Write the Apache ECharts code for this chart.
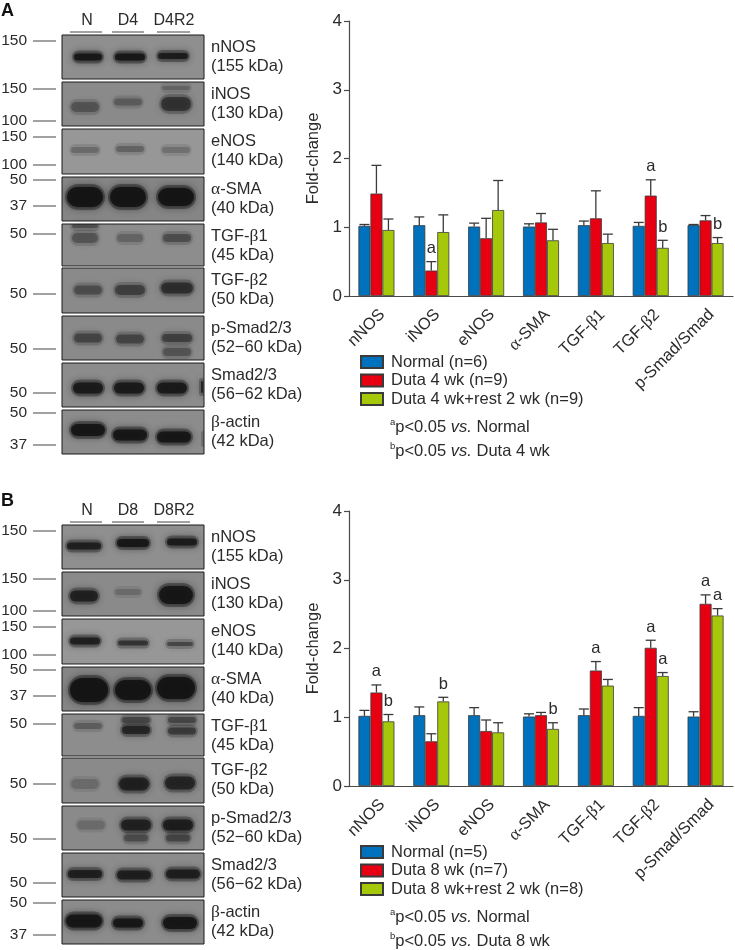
<!DOCTYPE html>
<html><head><meta charset="utf-8">
<style>html,body{margin:0;padding:0;background:#fff}#c{width:735px;height:950px}</style>
<script src="https://cdn.jsdelivr.net/npm/echarts@6/dist/echarts.min.js"></script>
</head><body><div id="c"></div>
<script>
// ---------- chart data ----------
const categories = ['nNOS','iNOS','eNOS','α-SMA','TGF-β1','TGF-β2','p-Smad/Smad'];
const yTicks = [0,1,2,3,4];

const namesA = ['Normal (n=6)','Duta 4 wk (n=9)','Duta 4 wk+rest 2 wk (n=9)'];
const normalA = [1.02,1.03,1.01,1.01,1.03,1.02,1.03];
const dutaA   = [1.49,0.37,0.84,1.07,1.13,1.46,1.10];
const restA   = [0.96,0.93,1.25,0.81,0.77,0.70,0.77];
const normalTopA = [1.04,1.15,1.06,1.05,1.09,1.07,1.04];
const dutaTopA   = [1.90,0.50,1.13,1.20,1.53,1.69,1.17];
const restTopA   = [1.12,1.18,1.68,0.97,0.90,0.81,0.85];
const dutaSigA = ['','a','','','','a',''];
const restSigA = ['','','','','','b','b'];

const namesB = ['Normal (n=5)','Duta 8 wk (n=7)','Duta 8 wk+rest 2 wk (n=8)'];
const normalB = [1.02,1.03,1.03,1.01,1.03,1.02,1.01];
const dutaB   = [1.36,0.65,0.80,1.03,1.68,2.01,2.65];
const restB   = [0.94,1.23,0.78,0.83,1.46,1.60,2.48];
const normalTopB = [1.10,1.15,1.14,1.05,1.12,1.14,1.08];
const dutaTopB   = [1.47,0.76,0.96,1.07,1.81,2.12,2.78];
const restTopB   = [1.04,1.29,0.92,0.92,1.55,1.65,2.58];
const dutaSigB = ['a','','','','a','a','a'];
const restSigB = ['b','b','','b','','a','a'];

const noneSig = ['','','','','','',''];

// ---------- blot panel text ----------
const blotNames = ['nNOS','iNOS','eNOS','α-SMA','TGF-β1','TGF-β2','p-Smad2/3','Smad2/3','β-actin'];
const blotSizes = ['(155 kDa)','(130 kDa)','(140 kDa)','(40 kDa)','(45 kDa)','(50 kDa)','(52−60 kDa)','(56−62 kDa)','(42 kDa)'];
const ladderLabels = ['150','150','100','150','100','50','37','50','50','50','50','50','37'];
const lanesA = ['N','D4','D4R2'];
const lanesB = ['N','D8','D8R2'];

// ---------- blot picture layout (decoration, not chart values) ----------
const ladderY = [41,89,121,137,165,180,206,234,294,349,393,413,445];
const rowTops = [35,82,129,177,224,268,316,363,410];
const rowBottoms = [79,126,174,221,266,313,360,407,454];
const rowGreys = ['#8f8f8f','#8a8a8a','#979797','#858585','#8d8d8d','#8a8a8a','#8a8a8a','#8c8c8c','#8c8c8c'];
// [centre x, dy below row top, width, height, darkness]
const bandsA = [
 [[88,22,30,7,.95],[130,22,32,7,.95],[173,21,32,6,.9]],
 [[85,25,30,10,.35],[128,20,30,7,.3],[176,22,32,14,.6],[176,6,30,4,.25]],
 [[85,21,30,6,.25],[130,20,30,6,.3],[176,21,30,6,.22]],
 [[85,20,38,20,1],[128,20,38,20,1],[176,20,38,18,1]],
 [[85,14,28,10,.35],[85,2,28,4,.4],[130,14,28,8,.25],[177,14,30,8,.4]],
 [[88,22,30,9,.4],[130,22,32,10,.5],[177,20,34,11,.65]],
 [[88,22,30,9,.45],[130,23,30,9,.45],[177,22,32,8,.5],[177,36,30,8,.35]],
 [[88,25,32,11,.9],[129,25,32,11,.9],[172,25,32,11,.9],[202,24,4,12,.8]],
 [[88,20,36,12,.95],[130,25,36,11,.95],[174,27,36,11,.95],[203,29,2,10,.6]]
];
const bandsB = [
 [[84,21,36,7,.85],[133,18,34,8,.95],[182,17,32,7,.9]],
 [[84,24,30,11,.8],[128,20,28,6,.2],[176,23,36,18,.95]],
 [[85,22,32,7,.85],[133,24,32,5,.65],[180,25,28,4,.5]],
 [[89,23,40,24,1],[133,23,38,20,1],[176,21,40,22,1]],
 [[88,12,30,6,.3],[136,16,30,8,.75],[136,6,30,6,.45],[182,17,30,7,.55],[182,6,30,6,.45]],
 [[85,26,30,10,.2],[134,26,32,13,.8],[180,25,32,13,.75]],
 [[91,19,30,9,.2],[136,19,32,11,.8],[136,32,26,7,.4],[178,19,32,11,.85],[178,32,26,7,.45]],
 [[85,21,36,8,.85],[134,22,36,9,.85],[183,21,36,9,.85]],
 [[84,21,38,13,.98],[128,23,32,9,.95],[180,23,36,12,.95]]
];
const laneCentres = [87,128,174];
const laneLineStart = [70,112,157];
const laneLineEnd = [102,144,190];

const FONT = '"Liberation Sans", Arial, sans-serif';
const GREEK = '"Liberation Serif", serif';
const colors = ['#0071bc','#e60012','#a5c90a'];
const INK = '#2b2b2b';
const LABEL = 16.5;
const greekRich = {g:{fontFamily:GREEK,fontSize:17.5,color:INK}};
const richify = s => s.replace(/[αβ]/g, m => '{g|'+m+'}');

function textEl(x,y,text,extra){
  return {type:'text',x,y,silent:true,z:20,style:Object.assign({text,fontFamily:FONT,fontSize:LABEL,fill:INK,verticalAlign:'middle'},extra||{})};
}
function panelGraphics(off,letter,lanes,bands){
  const bgs = [], marks = [], strips = [], rims = [], texts = [];
  texts.push(textEl(1,off+11,letter,{fontWeight:'bold',fontSize:18,fill:'#111'}));
  lanes.forEach((l,i)=>{
    texts.push(textEl(laneCentres[i],off+21,l,{align:'center',fontSize:16}));
    texts.push({type:'line',silent:true,shape:{x1:laneLineStart[i],y1:off+32,x2:laneLineEnd[i],y2:off+32},style:{stroke:'#444',lineWidth:1}});
  });
  ladderLabels.forEach((l,i)=>{
    texts.push(textEl(27,off+ladderY[i],l,{align:'right',fontSize:15.5}));
    texts.push({type:'line',silent:true,shape:{x1:33,y1:off+ladderY[i],x2:56,y2:off+ladderY[i]},style:{stroke:'#444',lineWidth:1}});
  });
  rowTops.forEach((t,i)=>{
    const top = off+t, h = rowBottoms[i]-t;
    bgs.push({type:'rect',silent:true,shape:{x:62,y:top,width:142,height:h},style:{fill:rowGreys[i]}});
    bands[i].forEach(b=>{
      const halo = 'rgba(25,25,25,'+(b[4]*0.38)+')';
      const core = 'rgba(20,20,20,'+(b[4]*0.92)+')';
      marks.push({type:'rect',silent:true,shape:{x:b[0]-b[2]/2-1,y:top+b[1]-b[3]/2-3,width:b[2]+2,height:b[3]+6,r:(b[3]+6)/2},
        style:{fill:halo,shadowBlur:9,shadowColor:halo}});
      marks.push({type:'rect',silent:true,shape:{x:b[0]-b[2]/2+1,y:top+b[1]-b[3]/2,width:b[2]-2,height:b[3],r:b[3]/2},
        style:{fill:core,shadowBlur:6,shadowColor:core}});
    });
    rims.push({type:'rect',silent:true,shape:{x:62,y:top,width:142,height:h},style:{fill:'none',stroke:'#1a1a1a',lineWidth:1}});
    const nextTop = i<rowTops.length-1 ? off+rowTops[i+1] : top+h+6;
    strips.push({type:'rect',silent:true,shape:{x:56,y:top+h,width:154,height:nextTop-top-h},style:{fill:'#fff'}});
    if(i===0) strips.push({type:'rect',silent:true,shape:{x:56,y:top-6,width:154,height:6},style:{fill:'#fff'}});
    texts.push(textEl(211,top+12,richify(blotNames[i]),{rich:greekRich}));
    texts.push(textEl(211,top+31,blotSizes[i]));
  });
  strips.push({type:'rect',silent:true,shape:{x:56,y:off+29,width:6,height:430},style:{fill:'#fff'}});
  strips.push({type:'rect',silent:true,shape:{x:204,y:off+29,width:6,height:430},style:{fill:'#fff'}});
  // lane underlines sit above the top strip, so they follow it in paint order
  return [...bgs,...marks,...strips,...rims,...texts];
}
function noteEls(off,name){
  const rich = {
    s:{fontFamily:FONT,fontSize:9.5,color:INK,verticalAlign:'top',lineHeight:19},
    n:{fontFamily:FONT,fontSize:LABEL,color:INK,lineHeight:19},
    i:{fontFamily:FONT,fontSize:LABEL,fontStyle:'italic',color:INK,lineHeight:19}
  };
  return [
    textEl(390,off+427,'{s|a}{n|p<0.05 }{i|vs.}{n| Normal}',{rich}),
    textEl(390,off+451,'{s|b}{n|p<0.05 }{i|vs.}{n| '+name+'}',{rich})
  ];
}

function errorSeries(axisIdx,groupIdx,means,tops,sig){
  const data = means.map((m,i)=>[i,m,tops[i]]);
  return {
    type:'custom',xAxisIndex:axisIdx,yAxisIndex:axisIdx,z:5,silent:true,
    data,encode:{x:0,y:[1,2]},
    renderItem(params,api){
      const base = api.coord([api.value(0),api.value(1)]);
      const top = api.coord([api.value(0),api.value(2)]);
      const dx = (groupIdx-1)*12;
      const x = base[0]+dx;
      const st = {stroke:'#3a3a3a',lineWidth:1.3};
      const kids = [
        {type:'line',shape:{x1:x,y1:base[1],x2:x,y2:top[1]},style:st},
        {type:'line',shape:{x1:x-5,y1:top[1],x2:x+5,y2:top[1]},style:st}
      ];
      const letter = sig[params.dataIndex];
      if(letter){
        kids.push({type:'text',style:{text:letter,x,y:top[1]-4.5,align:'center',verticalAlign:'bottom',
          fontFamily:FONT,fontSize:LABEL,fill:INK}});
      }
      return {type:'group',children:kids};
    }
  };
}
function barSeries(axisIdx,name,groupIdx,vals){
  return {type:'bar',name,xAxisIndex:axisIdx,yAxisIndex:axisIdx,data:vals,barWidth:12,barGap:'0%',z:3,
    silent:true,itemStyle:{color:colors[groupIdx],borderColor:'#3a3a3a',borderWidth:0.8}};
}
function grid(top){return {left:349,width:384,top,height:275};}
function xAxis(idx){
  return {type:'category',gridIndex:idx,data:categories,boundaryGap:true,
    axisLine:{lineStyle:{color:'#4a4a4a',width:1.2}},
    axisTick:{length:5,alignWithLabel:false,lineStyle:{color:'#4a4a4a',width:1.2}},
    axisLabel:{interval:0,rotate:45,margin:10,verticalAlign:'top',fontFamily:FONT,fontSize:LABEL,color:INK,
      formatter:richify,rich:greekRich}};
}
function yAxis(idx){
  return {type:'value',gridIndex:idx,min:yTicks[0],max:yTicks[yTicks.length-1],interval:1,
    name:'Fold-change',nameLocation:'middle',nameGap:26,nameRotate:90,
    nameTextStyle:{fontFamily:FONT,fontSize:LABEL,color:INK},
    axisLine:{show:true,lineStyle:{color:'#4a4a4a',width:1.2}},
    axisTick:{show:true,length:5,lineStyle:{color:'#4a4a4a',width:1.2}},
    splitLine:{show:false},
    axisLabel:{margin:7,fontFamily:FONT,fontSize:17,color:INK}};
}
function legend(top,names){
  return {data:names,orient:'vertical',left:360,top,icon:'rect',itemWidth:22,itemHeight:12,itemGap:0.5,selectedMode:false,padding:0,
    textStyle:{fontFamily:FONT,fontSize:LABEL,color:INK,padding:[0,0,0,3],lineHeight:18}};
}

const chart = echarts.init(document.getElementById('c'),null,{renderer:'canvas'});
chart.setOption({
  backgroundColor:'#fff',animation:false,
  grid:[grid(21),grid(511)],
  xAxis:[xAxis(0),xAxis(1)],
  yAxis:[yAxis(0),yAxis(1)],
  legend:[legend(353,namesA),legend(843,namesB)],
  series:[
    barSeries(0,namesA[0],0,normalA),barSeries(0,namesA[1],1,dutaA),barSeries(0,namesA[2],2,restA),
    errorSeries(0,0,normalA,normalTopA,noneSig),errorSeries(0,1,dutaA,dutaTopA,dutaSigA),errorSeries(0,2,restA,restTopA,restSigA),
    barSeries(1,namesB[0],0,normalB),barSeries(1,namesB[1],1,dutaB),barSeries(1,namesB[2],2,restB),
    errorSeries(1,0,normalB,normalTopB,noneSig),errorSeries(1,1,dutaB,dutaTopB,dutaSigB),errorSeries(1,2,restB,restTopB,restSigB)
  ],
  graphic:{elements:[
    ...panelGraphics(0,'A',lanesA,bandsA),
    ...panelGraphics(490,'B',lanesB,bandsB),
    ...noteEls(0,'Duta 4 wk'),
    ...noteEls(490,'Duta 8 wk')
  ]}
});
</script></body></html>
